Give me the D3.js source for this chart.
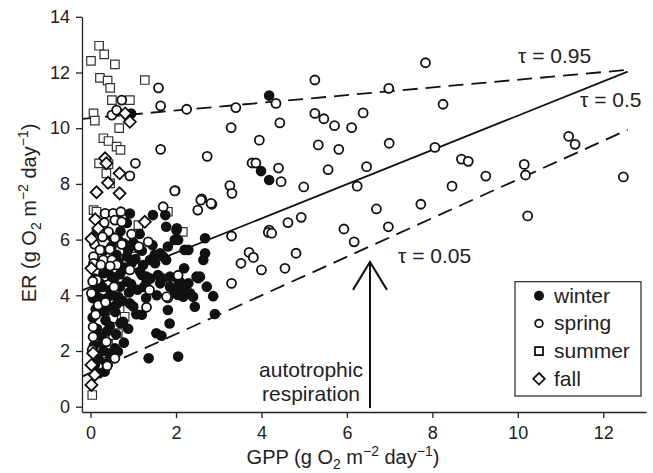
<!DOCTYPE html>
<html><head><meta charset="utf-8">
<script src="https://cdn.jsdelivr.net/npm/d3@7"></script>
<style>
body{margin:0;background:#fff;}
text{font-family:"Liberation Sans",Arial,sans-serif;fill:#222;}
</style></head>
<body><svg id="c" width="653" height="473"></svg>
<script>
// ---- data (GPP, ER) ----
const spring = [[5.25,11.73],[3.40,10.74],[4.34,10.89],[6.98,11.43],[5.25,10.53],[5.46,10.34],[5.71,10.09],[6.11,10.02],[6.38,10.55],[3.29,10.02],[4.43,10.19],[3.95,9.57],[5.33,9.40],[5.81,9.24],[6.99,9.46],[2.73,8.99],[3.78,8.75],[3.87,8.75],[4.40,8.57],[4.46,8.08],[5.56,8.51],[6.46,8.62],[3.26,7.94],[3.31,7.66],[4.99,7.89],[6.24,7.92],[2.60,7.46],[2.84,7.27],[6.69,7.10],[4.62,6.61],[4.93,6.80],[6.97,6.46],[5.93,6.38],[4.18,6.34],
[7.84,12.35],[8.25,10.86],[8.06,9.31],[8.68,8.89],[8.84,8.81],[11.19,9.71],[11.34,9.42],[10.15,8.70],[10.18,8.32],[9.25,8.28],[8.46,7.92],[7.73,7.27],[12.47,8.25],[10.23,6.85],
[6.17,5.92],[3.30,6.13],[4.16,6.26],[4.24,6.23],[3.71,5.54],[3.81,5.36],[3.52,5.15],[4.00,4.91],[4.55,4.97],[4.81,5.51],[3.30,4.43],
[1.98,7.76],[2.58,7.42],[2.82,7.30],[2.51,7.06],[2.05,4.72],
[1.38,4.19],[1.81,3.91],[1.31,3.57],[0.06,2.87],[0.06,2.51],[0.04,2.04],[0.57,1.74],[0.39,1.47],[0.02,4.07],[0.18,3.65],[0.37,2.33],
[1.05,8.74],[0.92,8.29],[1.97,7.75],[1.70,7.18],[1.35,5.92],[1.11,5.72],[0.92,4.91],
[0.34,6.94],[0.53,6.94],[0.71,7.00],[0.32,6.61],[0.57,6.70],[0.73,6.64],[0.22,6.28],[0.42,6.28],[0.09,5.84],[0.28,6.10],[0.57,6.05],[0.73,5.83],[0.96,6.20],[0.22,5.63],[0.45,5.65],[0.07,5.39],[0.30,5.27],[0.50,5.27],[0.61,5.09],[0.07,5.15],[0.24,5.09],[0.46,5.05],[1.13,5.75],[1.78,3.95],
[0.73,11.01],[0.50,10.47],[0.61,10.65],[1.59,11.45],[1.64,10.80],[2.25,10.68],[1.64,9.24],
[0.15,4.55],[0.35,3.75],[0.12,3.30],[0.55,4.30],[0.05,4.50]];

const winter = [[4.18,11.17],[3.99,8.46],[4.18,8.14],[0.95,10.53],
[2.87,3.97],[2.91,3.33],[2.68,6.05],[2.68,5.51],[2.56,4.67],
[2.02,6.41],[2.05,5.99],[2.29,5.63],[2.64,5.27],
[2.19,4.97],[2.02,4.62],[2.09,4.49],[2.29,4.43],[2.52,4.61],[2.33,4.07],[1.98,4.07],[2.17,3.95],[2.40,3.95],[2.44,3.59],[2.05,4.31],
[1.81,3.47],[1.85,2.99],[1.54,2.64],[1.66,2.55],[1.36,1.74],[2.05,1.80],[0.92,3.71],[1.07,3.32],[0.76,3.05],[0.57,2.10],[0.64,1.98],[0.37,1.56],[0.33,1.26],[2.05,4.01],
[1.46,6.88],[1.75,6.88],[0.92,6.94],[1.77,6.46],[2.01,6.34],[1.81,5.75],[1.97,5.99],[2.20,5.63],[1.50,5.45],[1.70,5.39],[1.77,5.27],[1.31,4.67],[1.58,4.73],
[0.65,5.99],[0.49,5.75],[0.77,5.87],[0.30,4.79],[0.50,4.67],[0.69,4.76],[0.22,4.43],[0.46,4.19],[0.69,4.31],[0.85,4.49],[0.15,3.95],[0.38,3.89],[0.65,3.95],[0.88,5.63],[0.85,5.39],[0.61,5.45],[0.96,5.15],
[1.63,5.51],[1.39,5.27],[1.51,5.15],[1.23,5.09],[1.16,4.85],[1.86,4.67],[2.48,4.67],[2.72,4.31],[2.17,4.19],[1.86,4.31],[1.63,4.43],[1.31,4.49],[1.20,4.73],
[0.05,3.20],[0.12,3.50],[0.20,3.90],[0.28,4.30],[0.10,4.60],[0.35,3.10],[0.42,3.60],[0.50,4.00],[0.58,3.40],[0.15,2.80],[0.25,2.50],[0.08,2.20],[0.30,2.00],[0.18,1.70],[0.45,2.90],[0.60,2.60],[0.70,3.00],[0.75,3.80],[0.90,4.10],[1.00,3.60],[0.95,4.40],[1.10,4.20],[0.55,4.60],[0.40,4.90],[0.22,5.10],[0.65,5.20],[0.80,5.00],[1.05,5.30],[1.20,5.60],[1.00,5.90],[0.30,5.60],[0.50,6.10],[0.15,6.30],[0.70,6.30],[0.85,6.60],[1.15,6.20],[0.33,3.40],[0.05,3.90],[0.12,4.20],[0.62,3.70],[0.27,2.30],[0.38,2.70],[0.10,1.50],[0.20,1.20],[0.45,1.90],[0.78,2.30],[0.88,2.80],[1.20,3.30],[1.30,3.90],[1.40,4.60],[1.55,4.00],[1.70,4.60],[1.45,5.80],[1.25,4.30]];

const summer = [[0.20,12.96],[0.32,12.65],[0.01,12.42],[0.57,12.29],[0.22,11.81],[0.40,11.71],[0.46,11.45],[0.50,11.01],[0.92,11.01],[1.27,11.73],[0.07,10.53],[0.10,10.27],[0.67,10.00],[0.30,9.64],[0.42,9.54],[0.61,9.34],[0.70,9.22],[0.20,8.74],[0.42,8.71],[0.37,8.38],[0.46,8.02],[0.07,7.06],[0.14,7.00],[1.12,6.52],[2.16,6.28],[1.81,7.00],[0.99,5.39],
[0.68,3.53],[0.80,3.23],[0.53,3.17],[0.64,2.64],[0.53,2.57],[0.41,2.22],[0.37,1.92],[0.41,1.62],[0.04,0.42],[0.30,6.50],[0.75,6.90],[0.55,5.90]];

const fall = [[0.81,10.53],[0.92,10.23],[0.34,8.92],[0.68,8.38],[0.41,8.04],[0.14,7.70],[0.68,7.66],[0.37,8.74],[0.11,6.73],[0.02,6.03],[0.02,4.97],[1.27,6.64],[0.02,1.50],[0.10,1.14],[0.02,0.78],[0.06,1.92],[0.18,6.40]];

// quantile regression lines: [tau, intercept, slope]
const quantLines = [["0.95",10.36,0.138],["0.5",4.30,0.615],["0.05",1.22,0.694]];
const lineRange = [-0.2, 12.57];
const xTicks = [0,2,4,6,8,10,12];
const yTicks = [0,2,4,6,8,10,12,14];
const legendLabels = ["winter","spring","summer","fall"];

// ---- drawing ----
const svg = d3.select("#c");
const x = d3.scaleLinear().domain([-0.2,13]).range([82,646]);
const y = d3.scaleLinear().domain([-0.19,14]).range([412,16.8]);

const fs = 18;
const gx = svg.append("g").attr("transform","translate(0,412)")
  .call(d3.axisBottom(x).tickValues(xTicks).tickSize(6).tickPadding(8).tickSizeOuter(0));
const gy = svg.append("g").attr("transform","translate(82,0)")
  .call(d3.axisLeft(y).tickValues(yTicks).tickSize(6).tickPadding(6).tickSizeOuter(0));
[gx,gy].forEach(g=>{
  g.selectAll("path,line").attr("stroke","#222").attr("stroke-width",1.3);
  g.selectAll("text").attr("font-size",fs).attr("fill","#222")
   .attr("font-family","Liberation Sans, Arial, sans-serif");
});

// quantile lines
quantLines.forEach(([t,a,b])=>{
  const pts = lineRange.map(v=>[x(v), y(a+b*v)]);
  svg.append("path").attr("d", d3.line()(pts))
    .attr("stroke","#111").attr("stroke-width",1.8).attr("fill","none")
    .attr("stroke-dasharray", t==="0.5" ? null : "15,8");
});

// points
const sym = (type,size)=>d3.symbol().type(type).size(size)();
svg.append("g").selectAll("path").data(summer).join("path")
  .attr("d", sym(d3.symbolSquare, 72))
  .attr("transform", d=>`translate(${x(d[0])},${y(d[1])})`)
  .attr("fill","#fff").attr("stroke","#333").attr("stroke-width",1.2);
svg.append("g").selectAll("circle").data(winter).join("circle")
  .attr("cx",d=>x(d[0])).attr("cy",d=>y(d[1])).attr("r",5.3).attr("fill","#111");
svg.append("g").selectAll("circle").data(spring).join("circle")
  .attr("cx",d=>x(d[0])).attr("cy",d=>y(d[1])).attr("r",4.5)
  .attr("fill","#fff").attr("stroke","#111").attr("stroke-width",1.8);
const diamond = "M0,-6L6,0L0,6L-6,0Z";
svg.append("g").selectAll("path").data(fall).join("path")
  .attr("d", diamond)
  .attr("transform", d=>`translate(${x(d[0])},${y(d[1])})`)
  .attr("fill","#fff").attr("stroke","#111").attr("stroke-width",1.8);

// tau labels
svg.append("text").attr("x",518).attr("y",63).attr("font-size",21).text("τ = 0.95");
svg.append("text").attr("x",580).attr("y",107).attr("font-size",21).text("τ = 0.5");
svg.append("text").attr("x",398).attr("y",263).attr("font-size",21).text("τ = 0.05");

// arrow
const ax = x(6.54);
svg.append("line").attr("x1",ax).attr("x2",ax).attr("y1",y(-0.05)).attr("y2",y(5.2))
  .attr("stroke","#111").attr("stroke-width",2);
svg.append("path").attr("d",`M${ax-17},${y(5.2)+28}L${ax},${y(5.2)}L${ax+17},${y(5.2)+28}`)
  .attr("stroke","#111").attr("stroke-width",2).attr("fill","none");
svg.append("text").attr("x",311).attr("y",377).attr("font-size",21).attr("text-anchor","middle").text("autotrophic");
svg.append("text").attr("x",311).attr("y",401).attr("font-size",21).attr("text-anchor","middle").text("respiration");

// legend
const lg = svg.append("g");
lg.append("rect").attr("x",515).attr("y",281.7).attr("width",126).attr("height",114.3)
  .attr("fill","#fff").attr("stroke","#222").attr("stroke-width",1.2);
legendLabels.forEach((lab,i)=>{
  const cy = 295.7 + i*27.7, cx = 539;
  if(i===0) lg.append("circle").attr("cx",cx).attr("cy",cy).attr("r",5).attr("fill","#111");
  if(i===1) lg.append("circle").attr("cx",cx).attr("cy",cy).attr("r",3.8).attr("fill","#fff").attr("stroke","#111").attr("stroke-width",1.8);
  if(i===2) lg.append("rect").attr("x",cx-4).attr("y",cy-4).attr("width",8).attr("height",8).attr("fill","#fff").attr("stroke","#111").attr("stroke-width",1.8);
  if(i===3) lg.append("path").attr("d","M0,-5.8L5.8,0L0,5.8L-5.8,0Z").attr("transform",`translate(${cx},${cy})`).attr("fill","#fff").attr("stroke","#111").attr("stroke-width",1.8);
  lg.append("text").attr("x",554).attr("y",cy+7).attr("font-size",21).text(lab);
});

// axis titles
const xt = svg.append("text").attr("x",343).attr("y",464).attr("font-size",20).attr("text-anchor","middle");
xt.append("tspan").text("GPP (g O");
xt.append("tspan").attr("font-size",14).attr("dy",5).text("2");
xt.append("tspan").attr("dy",-5).text(" m");
xt.append("tspan").attr("font-size",14).attr("dy",-8).text("−2");
xt.append("tspan").attr("dy",8).text(" day");
xt.append("tspan").attr("font-size",14).attr("dy",-8).text("−1");
xt.append("tspan").attr("dy",8).text(")");

const yt = svg.append("text").attr("transform","translate(36,213) rotate(-90)").attr("font-size",20).attr("text-anchor","middle");
yt.append("tspan").text("ER (g O");
yt.append("tspan").attr("font-size",14).attr("dy",5).text("2");
yt.append("tspan").attr("dy",-5).text(" m");
yt.append("tspan").attr("font-size",14).attr("dy",-8).text("−2");
yt.append("tspan").attr("dy",8).text(" day");
yt.append("tspan").attr("font-size",14).attr("dy",-8).text("−1");
yt.append("tspan").attr("dy",8).text(")");
</script></body></html>
